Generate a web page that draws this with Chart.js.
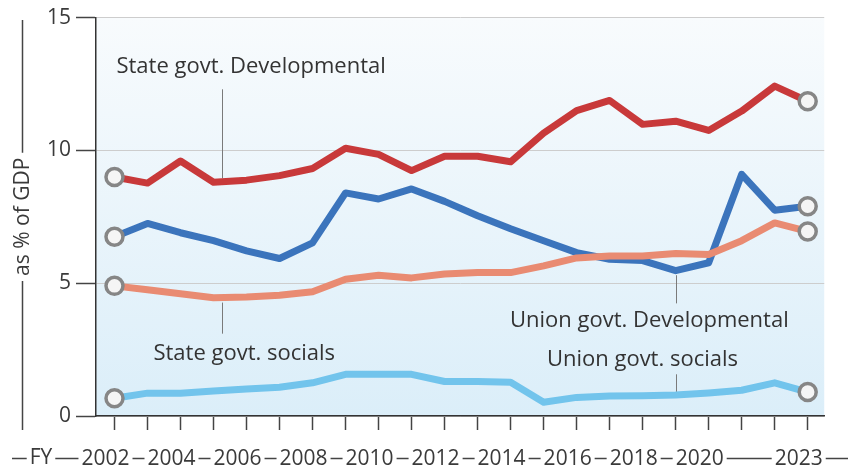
<!DOCTYPE html>
<html>
<head>
<meta charset="utf-8">
<script src="https://cdn.jsdelivr.net/npm/chart.js@4.4.0/dist/chart.umd.min.js"></script>
<style>
html,body{margin:0;padding:0;background:#fff;}
#wrap{width:848px;height:467px;}
</style>
</head>
<body>
<div id="wrap"><canvas id="c" width="848" height="467"></canvas></div>
<script>
// ---- data ----
const years = [2002,2003,2004,2005,2006,2007,2008,2009,2010,2011,2012,2013,2014,2015,2016,2017,2018,2019,2020,2021,2022,2023];
const labelYears = [2002,2004,2006,2008,2010,2012,2014,2016,2018,2020,2023];
const yTickValues = [0,5,10,15];
const stateDevelopmental = [9.0,8.77,9.6,8.8,8.88,9.05,9.32,10.08,9.85,9.24,9.78,9.78,9.57,10.65,11.5,11.88,10.98,11.1,10.75,11.48,12.42,11.85];
const unionDevelopmental = [6.75,7.25,6.9,6.6,6.22,5.93,6.52,8.4,8.17,8.55,8.08,7.54,7.05,6.6,6.15,5.9,5.85,5.47,5.77,9.1,7.75,7.9];
const stateSocials = [4.9,4.75,4.6,4.45,4.48,4.55,4.68,5.15,5.3,5.2,5.35,5.4,5.4,5.65,5.95,6.02,6.02,6.12,6.08,6.6,7.27,6.95];
const unionSocials = [0.67,0.86,0.86,0.94,1.02,1.08,1.25,1.57,1.57,1.57,1.3,1.3,1.27,0.52,0.7,0.75,0.76,0.79,0.87,0.97,1.25,0.9];
const seriesNames = ['State govt. Developmental','Union govt. Developmental','State govt. socials','Union govt. socials'];
const yTitle = 'as % of GDP';
const xTitle = 'FY';

const FONT = 'Open Sans';
const TXT = '#3a3a3a';

const annotations = [
  {text: seriesNames[0], x: 2002.06, y: 13.16, px: 2005.25, y1: 12.3, y2: 8.95},
  {text: seriesNames[2], x: 2003.18, y: 2.36, px: 2005.25, y1: 4.27, y2: 3.1},
  {text: seriesNames[1], x: 2013.98, y: 3.6, px: 2019.0, y1: 5.3, y2: 4.24},
  {text: seriesNames[3], x: 2015.1, y: 2.1, px: 2019.0, y1: 1.57, y2: 0.82}
];

function mk(label, arr, color) {
  const n = arr.length;
  return {
    label: label,
    data: years.map((yr, i) => ({x: yr, y: arr[i]})),
    borderColor: color,
    borderWidth: 7,
    borderJoinStyle: 'round',
    borderCapStyle: 'round',
    tension: 0,
    fill: false,
    pointRadius: ctx => (ctx.dataIndex === 0 || ctx.dataIndex === n - 1) ? 8.5 : 0,
    pointHoverRadius: 0,
    pointBorderColor: '#868686',
    pointBorderWidth: 3.5,
    pointBackgroundColor: '#f5f5f5'
  };
}

const bgPlugin = {
  id: 'bg',
  beforeDraw(chart) {
    const {ctx, chartArea: a} = chart;
    ctx.save();
    ctx.fillStyle = '#ffffff';
    ctx.fillRect(0, 0, chart.width, chart.height);
    const g = ctx.createLinearGradient(0, a.top, 0, a.bottom);
    g.addColorStop(0, '#f8fbfd');
    g.addColorStop(1, '#dbeef9');
    ctx.fillStyle = g;
    ctx.fillRect(a.left, a.top, a.right - a.left, a.bottom - a.top);
    ctx.restore();
  },
  beforeDatasetsDraw(chart) {
    const {ctx} = chart;
    const xs = chart.scales.x, ys = chart.scales.y;
    ctx.save();
    ctx.font = '22px "' + FONT + '"';
    ctx.fillStyle = '#333';
    ctx.textBaseline = 'middle';
    ctx.textAlign = 'left';
    annotations.forEach(an => {
      ctx.fillText(an.text, xs.getPixelForValue(an.x), ys.getPixelForValue(an.y));
      const px = Math.round(xs.getPixelForValue(an.px)) + 0.5;
      ctx.strokeStyle = '#7a7a7a';
      ctx.lineWidth = 1;
      ctx.beginPath();
      ctx.moveTo(px, ys.getPixelForValue(an.y1));
      ctx.lineTo(px, ys.getPixelForValue(an.y2));
      ctx.stroke();
    });
    ctx.restore();
  },
  afterDraw(chart) {
    const {ctx} = chart;
    const xs = chart.scales.x, ys = chart.scales.y;
    ctx.save();
    ctx.font = '21px "' + FONT + '"';
    ctx.strokeStyle = '#444';
    ctx.lineWidth = 1.5;
    // x label dash line with gaps
    const ly = chart.chartArea.bottom + 42.5;
    const gaps = [];
    const fyW = ctx.measureText(xTitle).width;
    const fyX = 41;
    gaps.push([fyX - fyW / 2 - 3, fyX + fyW / 2 + 3]);
    labelYears.forEach(v => {
      const cx = xs.getPixelForValue(v) + xLabelOffset;
      const w = ctx.measureText(String(v)).width;
      gaps.push([cx - w / 2 - 3, cx + w / 2 + 3]);
    });
    gaps.sort((a, b) => a[0] - b[0]);
    let start = 12;
    ctx.beginPath();
    gaps.forEach(gp => {
      if (gp[0] > start) { ctx.moveTo(start, ly); ctx.lineTo(gp[0], ly); }
      start = gp[1];
    });
    if (start < chart.width) { ctx.moveTo(start, ly); ctx.lineTo(chart.width, ly); }
    ctx.stroke();
    ctx.fillStyle = TXT;
    ctx.textAlign = 'center';
    ctx.textBaseline = 'middle';
    ctx.fillText(xTitle, fyX, ly);
    // y title vertical line with gap
    const tx = 22.5;
    const tw = ctx.measureText(yTitle).width;
    const cy = (chart.chartArea.top + chart.chartArea.bottom) / 2;
    ctx.beginPath();
    ctx.moveTo(tx, 20); ctx.lineTo(tx, cy - tw / 2 - 5);
    ctx.moveTo(tx, cy + tw / 2 + 5); ctx.lineTo(tx, 430);
    ctx.stroke();
    ctx.restore();
  }
};

const xLabelOffset = -9;

new Chart(document.getElementById('c').getContext('2d'), {
  type: 'line',
  data: {
    datasets: [
      mk(seriesNames[0], stateDevelopmental, '#c8393a'),
      mk(seriesNames[2], stateSocials, '#e98b72'),
      mk(seriesNames[1], unionDevelopmental, '#3b74bc'),
      mk(seriesNames[3], unionSocials, '#72c4ec')
    ]
  },
  options: {
    responsive: false,
    animation: false,
    devicePixelRatio: 1,
    layout: {padding: {left: 10, top: 16, right: 6, bottom: 0}},
    plugins: {legend: {display: false}, tooltip: {enabled: false}},
    scales: {
      x: {
        type: 'linear',
        min: 2001.44,
        max: 2023.5,
        afterBuildTicks: s => { s.ticks = years.map(v => ({value: v})); },
        afterFit: s => { s.height = 51; },
        ticks: {
          callback: v => labelYears.includes(v) ? String(v) : '',
          font: {family: FONT, size: 21},
          color: TXT,
          padding: 16,
          labelOffset: xLabelOffset,
          maxRotation: 0,
          autoSkip: false
        },
        grid: {drawOnChartArea: false, tickLength: 14, tickColor: '#444', tickWidth: 1.5},
        border: {color: '#333', width: 1.5}
      },
      y: {
        min: 0,
        max: 15,
        afterBuildTicks: s => { s.ticks = yTickValues.map(v => ({value: v})); },
        afterFit: s => { s.width = 86; },
        ticks: {
          font: {family: FONT, size: 21},
          color: TXT,
          padding: 5
        },
        grid: {color: '#cdcdcd', lineWidth: 1, tickLength: 20, tickColor: '#444', tickWidth: 1.5},
        border: {color: '#333', width: 1.5},
        title: {display: true, text: yTitle, font: {family: FONT, size: 21}, color: TXT, padding: 0}
      }
    }
  },
  plugins: [bgPlugin]
});
</script>
</body>
</html>
